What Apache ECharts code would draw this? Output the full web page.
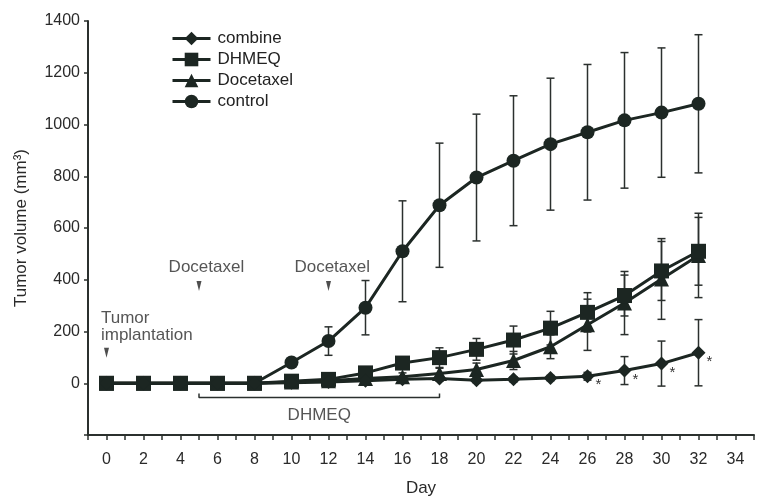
<!DOCTYPE html>
<html>
<head>
<meta charset="utf-8">
<script src="https://cdn.jsdelivr.net/npm/echarts@6/dist/echarts.min.js"></script>
<style>
html,body{margin:0;padding:0;background:#fff;}
#chart{width:757px;height:502px;}
</style>
</head>
<body>
<div id="chart"></div>
<script>
// ---- data ----
const days = [0, 2, 4, 6, 8, 10, 12, 14, 16, 18, 20, 22, 24, 26, 28, 30, 32];
const combine      = [0, 0, 0, 0, 0, 2, 5, 10, 15, 18, 12, 15, 20, 27, 49, 76, 118];
const combineErr   = [0, 0, 0, 0, 0, 3, 5, 5, 8, 10, 10, 10, 10, 15, 54, 87, 128];
const dhmeq        = [0, 0, 0, 0, 0, 8, 15, 40, 78, 99, 131, 167, 213, 274, 339, 434, 510];
const dhmeqErr     = [0, 0, 0, 0, 0, 5, 8, 15, 20, 38, 42, 54, 65, 76, 79, 114, 131];
const docetaxel    = [0, 0, 0, 0, 0, 5, 10, 18, 25, 38, 53, 88, 141, 226, 310, 403, 494];
const docetaxelErr = [0, 0, 0, 0, 0, 5, 8, 10, 15, 20, 25, 35, 46, 99, 122, 156, 163];
const control      = [0, 0, 0, 0, 0, 80, 163, 292, 510, 688, 795, 860, 924, 970, 1016, 1046, 1080];
const controlErr   = [0, 0, 0, 0, 0, 8, 55, 105, 195, 240, 245, 251, 255, 262, 262, 250, 267];
const seriesNames  = ['combine', 'DHMEQ', 'Docetaxel', 'control'];
const significantDays = [26, 28, 30, 32];   // combine points marked with *

// annotations (data coordinates)
const annoTexts = ['Tumor\nimplantation', 'Docetaxel', 'Docetaxel', 'DHMEQ'];
const annoDays  = [-0.3, 5.4, 12.2, 11.5];
const annoVals  = [220, 448, 448, -125];
const arrowDays = [0, 5, 12];
const arrowVals = [118, 376, 376];
const dhmeqPeriod = [5, 18];   // treatment bracket days
const bracketVal = -55;
const bracketTick = -40;

// ---- chart ----
const INK = '#1c2622';
const FONT = 'Liberation Sans, Arial, sans-serif';
const chart = echarts.init(document.getElementById('chart'), null, {renderer: 'canvas'});

function pairs(vals) { return days.map((d, i) => [d, vals[i]]); }
function errData(vals, errs) { return days.map((d, i) => [d, vals[i], errs[i]]); }

function errSeries(vals, errs) {
  return {
    type: 'custom',
    silent: true,
    z: 1,
    data: errData(vals, errs),
    renderItem: function (params, api) {
      const x = api.value(0), y = api.value(1), e = api.value(2);
      if (!e) return null;
      const top = api.coord([x, y + e]);
      const bot = api.coord([x, y - e]);
      const hw = 4;
      const st = {stroke: '#2b302e', lineWidth: 1.5};
      return {
        type: 'group',
        children: [
          {type: 'line', shape: {x1: top[0], y1: top[1], x2: bot[0], y2: bot[1]}, style: st},
          {type: 'line', shape: {x1: top[0] - hw, y1: top[1], x2: top[0] + hw, y2: top[1]}, style: st},
          {type: 'line', shape: {x1: bot[0] - hw, y1: bot[1], x2: bot[0] + hw, y2: bot[1]}, style: st}
        ]
      };
    }
  };
}

function lineSeries(name, vals, symbol, size) {
  return {
    name: name,
    type: 'line',
    z: 3,
    data: pairs(vals),
    symbol: symbol,
    symbolSize: size,
    showAllSymbol: true,
    lineStyle: {color: INK, width: 3},
    itemStyle: {color: INK, borderColor: INK, borderWidth: 0},
    emphasis: {disabled: true}
  };
}

const combineData = days.map((d, i) => {
  const item = {value: [d, combine[i]]};
  if (significantDays.indexOf(d) >= 0) {
    item.label = {show: true, formatter: '*', position: 'right', distance: 1, offset: [0, 9],
      fontSize: 15, color: '#333', fontFamily: FONT};
  }
  return item;
});

const combineSeries = lineSeries('combine', combine, 'diamond', 14);
combineSeries.data = combineData;

const annoData = annoTexts.map((t, i) => {
  const left = i === 0;
  return {
    value: [annoDays[i], annoVals[i]],
    label: {
      show: true, formatter: t,
      position: left ? 'right' : 'inside',
      distance: 0,
      align: left ? 'left' : 'center',
      verticalAlign: 'middle',
      lineHeight: 17,
      fontSize: 17, color: '#2a2a2a', fontFamily: FONT
    }
  };
});

const option = {
  animation: false,
  backgroundColor: '#ffffff',
  grid: {left: 88, right: 2, top: 21, bottom: 59, containLabel: false},
  legend: {
    data: seriesNames,
    orient: 'vertical',
    left: 166, top: 25,
    itemWidth: 38, itemHeight: 17, itemGap: 4,
    lineStyle: {width: 3},
    textStyle: {fontSize: 17, color: '#222', fontFamily: FONT, padding: [0, 0, 0, 2]},
    selectedMode: false
  },
  xAxis: {
    type: 'value',
    min: -1, max: 35, interval: 1,
    name: 'Day', nameLocation: 'middle', nameGap: 45,
    nameTextStyle: {fontSize: 17, color: '#2a2a2a', fontFamily: FONT},
    axisLine: {show: true, onZero: false, lineStyle: {color: '#2b302e', width: 2}},
    axisTick: {show: true, length: 5, lineStyle: {color: '#2b302e', width: 1.5}},
    axisLabel: {
      margin: 17, fontSize: 16, color: '#2a2a2a', fontFamily: FONT,
      formatter: v => (v >= 0 && v % 2 === 0 && v <= 34) ? String(v) : ''
    },
    splitLine: {show: false}
  },
  yAxis: {
    type: 'value',
    min: -200, max: 1400, interval: 200,
    name: 'Tumor volume (mm³)', nameLocation: 'middle', nameGap: 58,
    nameTextStyle: {fontSize: 17, color: '#2a2a2a', fontFamily: FONT},
    axisLine: {show: true, onZero: false, lineStyle: {color: '#2b302e', width: 2}},
    axisTick: {show: true, length: 4, lineStyle: {color: '#2b302e', width: 1.5}},
    axisLabel: {
      margin: 8, fontSize: 16, color: '#2a2a2a', fontFamily: FONT,
      formatter: v => v < 0 ? '' : String(v)
    },
    splitLine: {show: false}
  },
  series: [
    errSeries(control, controlErr),
    errSeries(dhmeq, dhmeqErr),
    errSeries(docetaxel, docetaxelErr),
    errSeries(combine, combineErr),
    lineSeries('control', control, 'circle', 14),
    lineSeries('Docetaxel', docetaxel, 'triangle', 15),
    lineSeries('DHMEQ', dhmeq, 'rect', 15),
    combineSeries,
    {
      type: 'scatter', silent: true, z: 4,
      symbolSize: 0,
      data: annoData
    },
    {
      type: 'scatter', silent: true, z: 4,
      symbol: 'triangle', symbolRotate: 180, symbolSize: [5, 10],
      itemStyle: {color: '#222'},
      data: arrowDays.map((d, i) => [d, arrowVals[i]])
    },
    {
      type: 'line', silent: true, z: 2,
      symbol: 'none',
      lineStyle: {color: '#2b302e', width: 1.5},
      data: [[dhmeqPeriod[0], bracketTick], [dhmeqPeriod[0], bracketVal],
             [dhmeqPeriod[1], bracketVal], [dhmeqPeriod[1], bracketTick]]
    }
  ]
};
chart.setOption(option);
</script>
</body>
</html>
